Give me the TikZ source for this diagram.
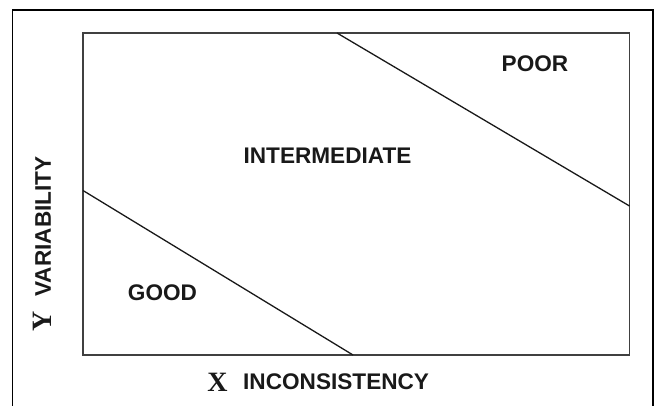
\documentclass[tikz,border=0pt]{standalone}
\usepackage{fontspec}
\setmainfont{Liberation Serif}
\newfontfamily\lblsans{Liberation Sans}
\begin{document}
\begin{tikzpicture}[x=1pt,y=-1pt,
  region/.style={font=\lblsans\bfseries\fontsize{22.6}{24}\selectfont, inner sep=0pt, text=black!90},
  axisletter/.style={font=\bfseries\fontsize{28}{30}\selectfont, inner sep=0pt, text=black!90},
  frame/.style={draw=black, line width=1.3pt},
  box/.style={draw=black!75, line width=1.6pt},
  divider/.style={draw=black!90, line width=1.3pt}]
\useasboundingbox (0,0) rectangle (660,406);
% outer frame (open at the bottom)
\coordinate (ol) at (12.5,406);
\coordinate (otl) at (12.5,10);
\coordinate (otr) at (653,10);
\coordinate (or) at (653,406);
\draw[frame] (ol) -- (otl) -- (otr) -- (or);
% plot box
\coordinate (tl) at (83,33);
\coordinate (br) at (629.5,355);
\draw[box] (tl) rectangle (br);
% dividing lines
\coordinate (a1) at (83,190.5);
\coordinate (a2) at (353,355);
\coordinate (b1) at (337,33);
\coordinate (b2) at (629.5,206);
\draw[divider] (a1) -- (a2);
\draw[divider] (b1) -- (b2);
% region labels
\node[region] (poor) at (535,63.5) {POOR};
\node[region] (inter) at (327.5,155.5) {INTERMEDIATE};
\node[region] (good) at (162.5,293) {GOOD};
% axis labels
\node[axisletter] (xl) at (217.5,382.5) {X};
\node[region, anchor=west] (xt) at (243,381.5) {INCONSISTENCY};
\node[axisletter, rotate=90] (yl) at (42,321) {Y};
\node[region, rotate=90] (yt) at (43,226.5) {VARIABILITY};
\end{tikzpicture}
\end{document}
